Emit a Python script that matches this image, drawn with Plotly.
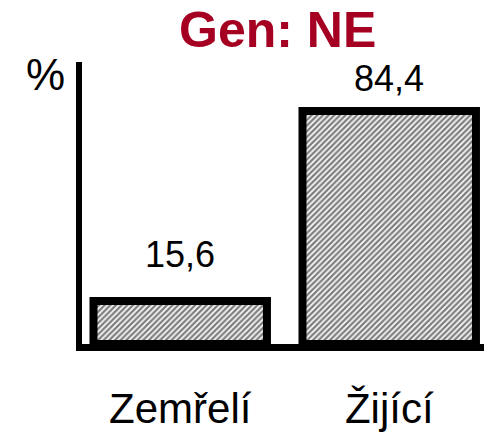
import plotly.graph_objects as go

categories = ["Zemřelí", "Žijící"]
values = [15.6, 84.4]
labels = ["15,6", "84,4"]
label_gap = [24, 10]

FONT = "Liberation Sans, Arial"

fig = go.Figure()
fig.add_trace(go.Bar(
    x=categories, y=values,
    marker=dict(
        color="white",
        line=dict(color="black", width=8),
        pattern=dict(shape="/", size=4, solidity=0.6, fgcolor="black", bgcolor="white"),
    ),
    width=0.83,
    hoverinfo="skip",
))
for c, v, t, g in zip(categories, values, labels, label_gap):
    fig.add_annotation(x=c, y=v, text=t, showarrow=False, yanchor="bottom", yshift=g,
                       font=dict(size=36, color="black", family=FONT))

fig.add_annotation(xref="paper", yref="paper", x=-0.035, y=0.955, text="%", showarrow=False,
                   xanchor="right", yanchor="middle",
                   font=dict(size=44, color="black", family=FONT))

fig.update_layout(
    width=492, height=438,
    margin=dict(l=74, r=0, t=54, b=102, autoexpand=False),
    paper_bgcolor="white", plot_bgcolor="white",
    showlegend=False,
    title=dict(text="<b>Gen: NE</b>", x=0.548, xanchor="center", y=0.99, yanchor="top",
               font=dict(size=50, color="#A50021", family=FONT)),
    font=dict(family=FONT, color="black"),
)
fig.update_xaxes(range=[-0.47, 1.53], showline=True, linecolor="black", linewidth=7, ticks="",
                 showgrid=False, tickfont=dict(size=42), ticklabelstandoff=22, automargin=False)
fig.update_yaxes(range=[0, 102.2], showline=True, linecolor="black", linewidth=6, showgrid=False,
                 showticklabels=False, ticks="", zeroline=False, automargin=False)

fig.write_html("out.html")
